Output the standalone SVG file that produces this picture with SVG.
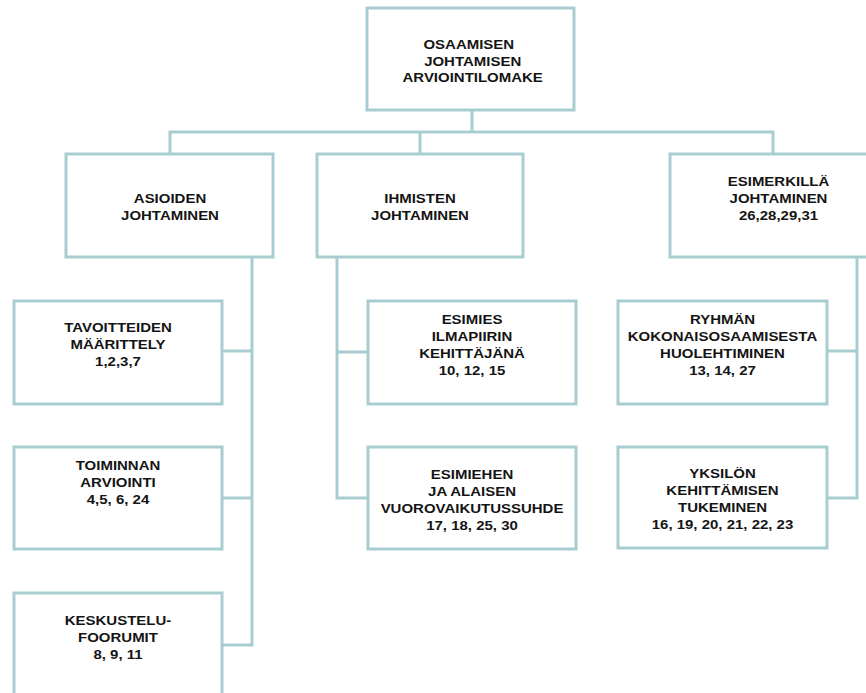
<svg xmlns="http://www.w3.org/2000/svg" width="866" height="693" viewBox="0 0 866 693">
<style>
.box{fill:#ffffff;stroke:#a8cdd1;stroke-width:3}
.con{fill:none;stroke:#a8cdd1;stroke-width:3;stroke-linejoin:miter;stroke-linecap:square}
.t{font-family:"Liberation Sans",Arial,sans-serif;font-weight:bold;font-size:13.5px;fill:#141414;text-anchor:middle}
</style>
<rect width="866" height="693" fill="#ffffff"/>
<g id="connectors">
<path class="con" d="M472,110 V132 M170,153 V132 H773 V153 M420,132 V153"/>
<path class="con" d="M252,257 V645 H222 M222,351 H252 M222,498 H252"/>
<path class="con" d="M337,257 V498 H368 M337,352 H368"/>
<path class="con" d="M857,257 V498 H827 M827,351 H857"/>
</g>
<g id="root">
<rect class="box" x="367" y="8" width="207" height="102"/>
<text class="t" transform="matrix(1.11 0 0 1 471 0)"><tspan x="-2" y="49">OSAAMISEN</tspan><tspan x="1.5" y="66">JOHTAMISEN</tspan><tspan x="1.5" y="82">ARVIOINTILOMAKE</tspan></text>
</g>
<g id="asioiden">
<rect class="box" x="66" y="154" width="207" height="103"/>
<text class="t" transform="matrix(1.11 0 0 1 170 0)"><tspan x="0" y="203">ASIOIDEN</tspan><tspan x="0" y="220">JOHTAMINEN</tspan></text>
</g>
<g id="ihmisten">
<rect class="box" x="317" y="154" width="206" height="103"/>
<text class="t" transform="matrix(1.11 0 0 1 420 0)"><tspan x="0" y="203">IHMISTEN</tspan><tspan x="0" y="220">JOHTAMINEN</tspan></text>
</g>
<g id="esimerkilla">
<rect class="box" x="670" y="154" width="216" height="103"/>
<text class="t" transform="matrix(1.11 0 0 1 778.5 0)"><tspan x="0" y="186">ESIMERKILLÄ</tspan><tspan x="0" y="203">JOHTAMINEN</tspan><tspan x="0" y="220">26,28,29,31</tspan></text>
</g>
<g id="tavoitteiden">
<rect class="box" x="14" y="301" width="208" height="103"/>
<text class="t" transform="matrix(1.11 0 0 1 118 0)"><tspan x="0" y="332">TAVOITTEIDEN</tspan><tspan x="0" y="349">MÄÄRITTELY</tspan><tspan x="0" y="366">1,2,3,7</tspan></text>
</g>
<g id="toiminnan">
<rect class="box" x="14" y="447" width="208" height="102"/>
<text class="t" transform="matrix(1.11 0 0 1 118 0)"><tspan x="0" y="470">TOIMINNAN</tspan><tspan x="0" y="487">ARVIOINTI</tspan><tspan x="0" y="504">4,5, 6, 24</tspan></text>
</g>
<g id="keskustelu">
<rect class="box" x="14" y="593" width="208" height="104"/>
<text class="t" transform="matrix(1.11 0 0 1 118 0)"><tspan x="0" y="625">KESKUSTELU-</tspan><tspan x="0" y="642">FOORUMIT</tspan><tspan x="0" y="659">8, 9, 11</tspan></text>
</g>
<g id="esimies">
<rect class="box" x="368" y="301" width="208" height="103"/>
<text class="t" transform="matrix(1.11 0 0 1 472 0)"><tspan x="0" y="324">ESIMIES</tspan><tspan x="0" y="341">ILMAPIIRIN</tspan><tspan x="0" y="358">KEHITTÄJÄNÄ</tspan><tspan x="0" y="375">10, 12, 15</tspan></text>
</g>
<g id="esimiehen">
<rect class="box" x="368" y="447" width="208" height="102"/>
<text class="t" transform="matrix(1.11 0 0 1 472 0)"><tspan x="0" y="479">ESIMIEHEN</tspan><tspan x="0" y="496">JA ALAISEN</tspan><tspan x="0" y="513">VUOROVAIKUTUSSUHDE</tspan><tspan x="0" y="530">17, 18, 25, 30</tspan></text>
</g>
<g id="ryhman">
<rect class="box" x="618" y="301" width="209" height="103"/>
<text class="t" transform="matrix(1.11 0 0 1 722.5 0)"><tspan x="0" y="324">RYHMÄN</tspan><tspan x="0" y="341">KOKONAISOSAAMISESTA</tspan><tspan x="0" y="358">HUOLEHTIMINEN</tspan><tspan x="0" y="375">13, 14, 27</tspan></text>
</g>
<g id="yksilon">
<rect class="box" x="618" y="447" width="209" height="101"/>
<text class="t" transform="matrix(1.11 0 0 1 722.5 0)"><tspan x="0" y="478">YKSILÖN</tspan><tspan x="0" y="495">KEHITTÄMISEN</tspan><tspan x="0" y="512">TUKEMINEN</tspan><tspan x="0" y="529">16, 19, 20, 21, 22, 23</tspan></text>
</g>
</svg>
